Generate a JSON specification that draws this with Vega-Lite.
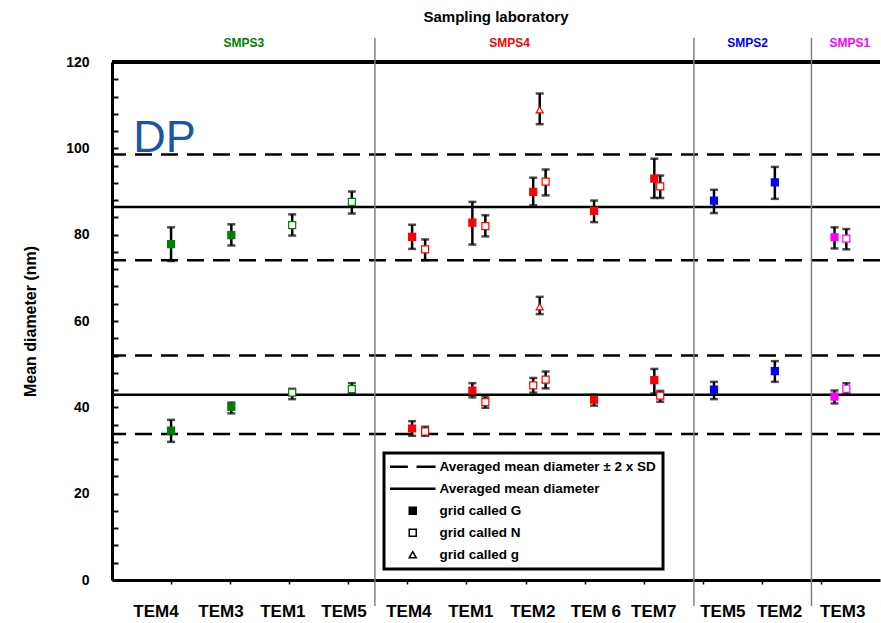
{
  "$schema": "https://vega.github.io/schema/vega-lite/v6.json",
  "width": 768,
  "height": 518,
  "autosize": "none",
  "padding": {"left": 112, "top": 62, "right": 1, "bottom": 43},
  "background": "white",
  "config": {"view": {"stroke": null}, "font": "Liberation Sans", "legend": {"strokeWidth": 3}},
  "resolve": {
    "axis": {"x": "independent", "y": "independent"},
    "scale": {"shape": "independent", "fill": "independent"}
  },
  "datasets": {
    "meas": [
      {"lab": "SMPS3", "tem": "TEM4", "grid": "grid called G", "pos": 1.0, "mean": 77.8, "lo": 73.9, "hi": 81.7},
      {"lab": "SMPS3", "tem": "TEM4", "grid": "grid called G", "pos": 1.0, "mean": 34.6, "lo": 32.0, "hi": 37.1},
      {"lab": "SMPS3", "tem": "TEM3", "grid": "grid called G", "pos": 2.02, "mean": 79.9, "lo": 77.5, "hi": 82.4},
      {"lab": "SMPS3", "tem": "TEM3", "grid": "grid called G", "pos": 2.02, "mean": 40.1, "lo": 38.6, "hi": 41.1},
      {"lab": "SMPS3", "tem": "TEM1", "grid": "grid called N", "pos": 3.05, "mean": 82.2, "lo": 79.8, "hi": 84.7},
      {"lab": "SMPS3", "tem": "TEM1", "grid": "grid called N", "pos": 3.05, "mean": 43.4, "lo": 41.9, "hi": 44.3},
      {"lab": "SMPS3", "tem": "TEM5", "grid": "grid called N", "pos": 4.06, "mean": 87.6, "lo": 84.9, "hi": 90.0},
      {"lab": "SMPS3", "tem": "TEM5", "grid": "grid called N", "pos": 4.06, "mean": 44.2, "lo": 43.3, "hi": 45.6},
      {"lab": "SMPS4", "tem": "TEM4", "grid": "grid called G", "pos": 5.08, "mean": 79.5, "lo": 76.7, "hi": 82.3},
      {"lab": "SMPS4", "tem": "TEM4", "grid": "grid called G", "pos": 5.08, "mean": 35.1, "lo": 33.4, "hi": 36.8},
      {"lab": "SMPS4", "tem": "TEM4", "grid": "grid called N", "pos": 5.3, "mean": 76.6, "lo": 74.1, "hi": 78.9},
      {"lab": "SMPS4", "tem": "TEM4", "grid": "grid called N", "pos": 5.3, "mean": 34.4, "lo": 33.4, "hi": 35.5},
      {"lab": "SMPS4", "tem": "TEM1", "grid": "grid called G", "pos": 6.1, "mean": 82.8, "lo": 77.7, "hi": 87.6},
      {"lab": "SMPS4", "tem": "TEM1", "grid": "grid called G", "pos": 6.1, "mean": 43.9, "lo": 42.3, "hi": 45.6},
      {"lab": "SMPS4", "tem": "TEM1", "grid": "grid called N", "pos": 6.32, "mean": 82.0, "lo": 79.6, "hi": 84.5},
      {"lab": "SMPS4", "tem": "TEM1", "grid": "grid called N", "pos": 6.32, "mean": 41.2, "lo": 39.9, "hi": 42.5},
      {"lab": "SMPS4", "tem": "TEM2", "grid": "grid called G", "pos": 7.13, "mean": 89.9, "lo": 86.8, "hi": 93.2},
      {"lab": "SMPS4", "tem": "TEM2", "grid": "grid called N", "pos": 7.13, "mean": 45.1, "lo": 43.4, "hi": 46.8},
      {"lab": "SMPS4", "tem": "TEM2", "grid": "grid called N", "pos": 7.34, "mean": 92.3, "lo": 89.1, "hi": 95.1},
      {"lab": "SMPS4", "tem": "TEM2", "grid": "grid called N", "pos": 7.34, "mean": 46.4, "lo": 44.4, "hi": 48.3},
      {"lab": "SMPS4", "tem": "TEM2", "grid": "grid called g", "pos": 7.24, "mean": 108.9, "lo": 105.6, "hi": 112.7},
      {"lab": "SMPS4", "tem": "TEM2", "grid": "grid called g", "pos": 7.24, "mean": 63.3, "lo": 61.6, "hi": 65.6},
      {"lab": "SMPS4", "tem": "TEM 6", "grid": "grid called G", "pos": 8.16, "mean": 85.5, "lo": 82.9, "hi": 87.9},
      {"lab": "SMPS4", "tem": "TEM 6", "grid": "grid called G", "pos": 8.16, "mean": 41.8, "lo": 40.4, "hi": 42.9},
      {"lab": "SMPS4", "tem": "TEM7", "grid": "grid called G", "pos": 9.18, "mean": 93.0, "lo": 88.5, "hi": 97.6},
      {"lab": "SMPS4", "tem": "TEM7", "grid": "grid called G", "pos": 9.18, "mean": 46.3, "lo": 43.2, "hi": 48.9},
      {"lab": "SMPS4", "tem": "TEM7", "grid": "grid called N", "pos": 9.28, "mean": 91.2, "lo": 88.5, "hi": 93.7},
      {"lab": "SMPS4", "tem": "TEM7", "grid": "grid called N", "pos": 9.28, "mean": 42.7, "lo": 41.3, "hi": 43.8},
      {"lab": "SMPS2", "tem": "TEM5", "grid": "grid called G", "pos": 10.19, "mean": 87.9, "lo": 85.0, "hi": 90.4},
      {"lab": "SMPS2", "tem": "TEM5", "grid": "grid called G", "pos": 10.19, "mean": 44.1, "lo": 41.9, "hi": 45.9},
      {"lab": "SMPS2", "tem": "TEM2", "grid": "grid called G", "pos": 11.22, "mean": 92.1, "lo": 88.3, "hi": 95.7},
      {"lab": "SMPS2", "tem": "TEM2", "grid": "grid called G", "pos": 11.22, "mean": 48.4, "lo": 45.9, "hi": 50.7},
      {"lab": "SMPS1", "tem": "TEM3", "grid": "grid called G", "pos": 12.23, "mean": 79.4, "lo": 76.8, "hi": 81.7},
      {"lab": "SMPS1", "tem": "TEM3", "grid": "grid called G", "pos": 12.23, "mean": 42.5, "lo": 40.9, "hi": 43.9},
      {"lab": "SMPS1", "tem": "TEM3", "grid": "grid called N", "pos": 12.43, "mean": 79.1, "lo": 76.6, "hi": 81.3},
      {"lab": "SMPS1", "tem": "TEM3", "grid": "grid called N", "pos": 12.43, "mean": 44.3, "lo": 43.2, "hi": 45.6}
    ],
    "refs": [
      {"kind": "Averaged mean diameter", "value": 86.4},
      {"kind": "Averaged mean diameter ± 2 x SD", "value": 98.6},
      {"kind": "Averaged mean diameter ± 2 x SD", "value": 74.1},
      {"kind": "Averaged mean diameter", "value": 42.9},
      {"kind": "Averaged mean diameter ± 2 x SD", "value": 52.0},
      {"kind": "Averaged mean diameter ± 2 x SD", "value": 33.8}
    ],
    "labs": [
      {"lab": "SMPS3", "center": 2.23, "end": 4.45},
      {"lab": "SMPS4", "center": 6.73, "end": 9.85},
      {"lab": "SMPS2", "center": 10.76, "end": 11.84},
      {"lab": "SMPS1", "center": 12.49, "end": null}
    ],
    "cats": [
      {"lab": "SMPS3", "tem": "TEM4", "pos": 0.745},
      {"lab": "SMPS3", "tem": "TEM3", "pos": 1.845},
      {"lab": "SMPS3", "tem": "TEM1", "pos": 2.893},
      {"lab": "SMPS3", "tem": "TEM5", "pos": 3.926},
      {"lab": "SMPS4", "tem": "TEM4", "pos": 5.025},
      {"lab": "SMPS4", "tem": "TEM1", "pos": 6.074},
      {"lab": "SMPS4", "tem": "TEM2", "pos": 7.123},
      {"lab": "SMPS4", "tem": "TEM 6", "pos": 8.19},
      {"lab": "SMPS4", "tem": "TEM7", "pos": 9.17},
      {"lab": "SMPS2", "tem": "TEM5", "pos": 10.34},
      {"lab": "SMPS2", "tem": "TEM2", "pos": 11.3},
      {"lab": "SMPS1", "tem": "TEM3", "pos": 12.37}
    ]
  },
  "layer": [
    {
      "data": {"name": "refs"},
      "mark": {"type": "rule", "strokeWidth": 2.5, "color": "black"},
      "encoding": {
        "y": {
          "field": "value", "type": "quantitative",
          "scale": {"domain": [0, 120], "nice": false, "zero": false},
          "axis": {
            "values": [0, 4, 8, 12, 16, 20, 24, 28, 32, 36, 40, 44, 48, 52, 56, 60, 64, 68, 72, 76, 80, 84, 88, 92, 96, 100, 104, 108, 112, 116, 120],
            "labelExpr": "datum.value % 20 === 0 ? datum.label : ''",
            "labelOverlap": false,
            "labelFlush": false,
            "grid": false,
            "tickSize": -6,
            "tickWidth": 2,
            "tickColor": "black",
            "domainColor": "black",
            "domainWidth": 3,
            "labelFont": "Liberation Sans",
            "labelFontSize": 14,
            "labelFontWeight": "bold",
            "labelColor": "black",
            "labelPadding": 29,
            "title": "Mean  diameter (nm)",
            "titleFont": "Liberation Sans",
            "titleFontSize": 16,
            "titleFontWeight": "bold",
            "titleColor": "black",
            "titlePadding": 27
          }
        },
        "strokeDash": {
          "field": "kind", "type": "nominal",
          "scale": {"domain": ["Averaged mean diameter", "Averaged mean diameter ± 2 x SD"], "range": [[1, 0], [17, 9]]},
          "legend": null
        }
      }
    },
    {
      "data": {"values": [{}]},
      "mark": {"type": "rule", "strokeWidth": 4, "color": "black"},
      "encoding": {
        "y": {"datum": 120, "type": "quantitative", "scale": {"domain": [0, 120], "nice": false, "zero": false}, "axis": null}
      }
    },
    {
      "data": {"name": "labs"},
      "transform": [{"filter": "isValid(datum.end)"}],
      "mark": {"type": "rule", "strokeWidth": 1.5, "color": "#808080"},
      "encoding": {
        "x": {"field": "end", "type": "quantitative", "scale": {"domain": [0, 13], "nice": false, "zero": false}, "axis": null},
        "y": {"datum": 125.6, "type": "quantitative", "scale": {"domain": [0, 120], "nice": false, "zero": false}, "axis": null},
        "y2": {"datum": -6}
      }
    },
    {
      "data": {"name": "labs"},
      "mark": {"type": "text", "fontSize": 12, "fontWeight": "bold", "font": "Liberation Sans", "baseline": "middle", "align": "center"},
      "encoding": {
        "x": {"field": "center", "type": "quantitative", "scale": {"domain": [0, 13], "nice": false, "zero": false}, "axis": null},
        "y": {"datum": 124.4, "type": "quantitative", "scale": {"domain": [0, 120], "nice": false, "zero": false}, "axis": null},
        "text": {"field": "lab"},
        "color": {"field": "lab", "type": "nominal", "scale": {"domain": ["SMPS3", "SMPS4", "SMPS2", "SMPS1"], "range": ["#008000", "#ff0000", "#0000ff", "#ff00ff"]}, "legend": null}
      }
    },
    {
      "data": {"values": [{"text": "Sampling laboratory"}]},
      "mark": {"type": "text", "fontSize": 15, "fontWeight": "bold", "font": "Liberation Sans", "baseline": "middle", "align": "center", "color": "black"},
      "encoding": {
        "x": {"datum": 6.5, "type": "quantitative", "scale": {"domain": [0, 13], "nice": false, "zero": false}, "axis": null},
        "y": {"datum": 130.4, "type": "quantitative", "scale": {"domain": [0, 120], "nice": false, "zero": false}, "axis": null},
        "text": {"field": "text"}
      }
    },
    {
      "data": {"name": "cats"},
      "mark": {"type": "text", "fontSize": 17, "fontWeight": "bold", "font": "Liberation Sans", "baseline": "middle", "align": "center", "color": "black"},
      "encoding": {
        "x": {"field": "pos", "type": "quantitative", "scale": {"domain": [0, 13], "nice": false, "zero": false}, "axis": null},
        "y": {"datum": -7.4, "type": "quantitative", "scale": {"domain": [0, 120], "nice": false, "zero": false}, "axis": null},
        "text": {"field": "tem"}
      }
    },
    {
      "data": {"name": "meas"},
      "mark": {"type": "errorbar", "color": "black", "thickness": 2.5, "ticks": {"size": 8, "thickness": 2.5, "color": "black"}},
      "encoding": {
        "x": {
          "field": "pos", "type": "quantitative",
          "scale": {"domain": [0, 13], "nice": false, "zero": false},
          "axis": {
            "values": [1, 2, 3, 4, 5, 6, 7, 8, 9, 10, 11, 12],
            "labels": false,
            "grid": false,
            "tickSize": 4,
            "tickWidth": 1.5,
            "tickColor": "black",
            "domainColor": "black",
            "domainWidth": 3,
            "title": null
          }
        },
        "y": {"field": "lo", "type": "quantitative", "scale": {"domain": [0, 120], "nice": false, "zero": false}, "axis": null},
        "y2": {"field": "hi"}
      }
    },
    {
      "data": {"name": "meas"},
      "mark": {"type": "point", "size": 49, "strokeWidth": 1.2, "opacity": 1},
      "encoding": {
        "x": {"field": "pos", "type": "quantitative", "scale": {"domain": [0, 13], "nice": false, "zero": false}, "axis": null},
        "y": {"field": "mean", "type": "quantitative", "scale": {"domain": [0, 120], "nice": false, "zero": false}, "axis": null},
        "stroke": {"field": "lab", "type": "nominal", "scale": {"domain": ["SMPS3", "SMPS4", "SMPS2", "SMPS1"], "range": ["#008000", "#ff0000", "#0000ff", "#ff00ff"]}, "legend": null},
        "fill": {
          "condition": {"test": "datum.grid === 'grid called G'", "field": "lab", "type": "nominal", "scale": {"domain": ["SMPS3", "SMPS4", "SMPS2", "SMPS1"], "range": ["#008000", "#ff0000", "#0000ff", "#ff00ff"]}, "legend": null},
          "value": "white"
        },
        "shape": {
          "field": "grid", "type": "nominal",
          "scale": {"domain": ["grid called G", "grid called N", "grid called g"], "range": ["square", "square", "triangle-up"]},
          "legend": null
        }
      }
    },
    {
      "data": {"name": "meas"},
      "mark": {"type": "point", "size": 49, "strokeWidth": 1.5, "stroke": "black", "opacity": 0},
      "encoding": {
        "x": {"field": "pos", "type": "quantitative", "scale": {"domain": [0, 13], "nice": false, "zero": false}, "axis": null},
        "y": {"field": "mean", "type": "quantitative", "scale": {"domain": [0, 120], "nice": false, "zero": false}, "axis": null},
        "shape": {
          "field": "grid", "type": "nominal",
          "scale": {
            "domain": ["Averaged mean diameter ± 2 x SD", "Averaged mean diameter", "grid called G", "grid called N", "grid called g"],
            "range": ["M-6.3,-0.15H-1.6V0.15H-6.3ZM1.3,-0.15H6.3V0.15H1.3Z", "M-6.3,-0.15H6.3V0.15H-6.3Z", "square", "square", "triangle-up"]
          },
          "legend": {
            "orient": "none",
            "legendX": 272,
            "legendY": 391,
            "title": null,
            "padding": 7,
            "strokeColor": "black",
            "fillColor": "white",
            "symbolSize": 49,
            "symbolOpacity": 1,
            "symbolOffset": 15,
            "labelOffset": 20,
            "rowPadding": 7,
            "labelFont": "Liberation Sans",
            "labelFontSize": 13.5,
            "labelFontWeight": "bold",
            "labelColor": "black",
            "labelLimit": 400,
            "labelExpr": "indexof(datum.label, 'SD') > 0 ? datum.label + '\u00a0\u00a0\u00a0\u00a0\u00a0\u00a0\u00a0\u00a0\u00a0' : datum.label"
          }
        },
        "fill": {
          "field": "grid", "type": "nominal",
          "scale": {
            "domain": ["Averaged mean diameter ± 2 x SD", "Averaged mean diameter", "grid called G", "grid called N", "grid called g"],
            "range": ["black", "black", "black", "white", "white"]
          },
          "legend": {
            "orient": "none",
            "legendX": 272,
            "legendY": 391,
            "title": null,
            "padding": 7,
            "strokeColor": "black",
            "fillColor": "white",
            "symbolSize": 49,
            "symbolOpacity": 1,
            "symbolOffset": 15,
            "labelOffset": 20,
            "rowPadding": 7,
            "labelFont": "Liberation Sans",
            "labelFontSize": 13.5,
            "labelFontWeight": "bold",
            "labelColor": "black",
            "labelLimit": 400,
            "labelExpr": "indexof(datum.label, 'SD') > 0 ? datum.label + '\u00a0\u00a0\u00a0\u00a0\u00a0\u00a0\u00a0\u00a0\u00a0' : datum.label"
          }
        }
      }
    },
    {
      "data": {"values": [{"text": "DP"}]},
      "mark": {"type": "text", "fontSize": 45, "font": "Liberation Sans", "align": "left", "baseline": "alphabetic", "color": "#1a56a6"},
      "encoding": {
        "x": {"datum": 0.36, "type": "quantitative", "scale": {"domain": [0, 13], "nice": false, "zero": false}, "axis": null},
        "y": {"datum": 99.2, "type": "quantitative", "scale": {"domain": [0, 120], "nice": false, "zero": false}, "axis": null},
        "text": {"field": "text"}
      }
    }
  ]
}
